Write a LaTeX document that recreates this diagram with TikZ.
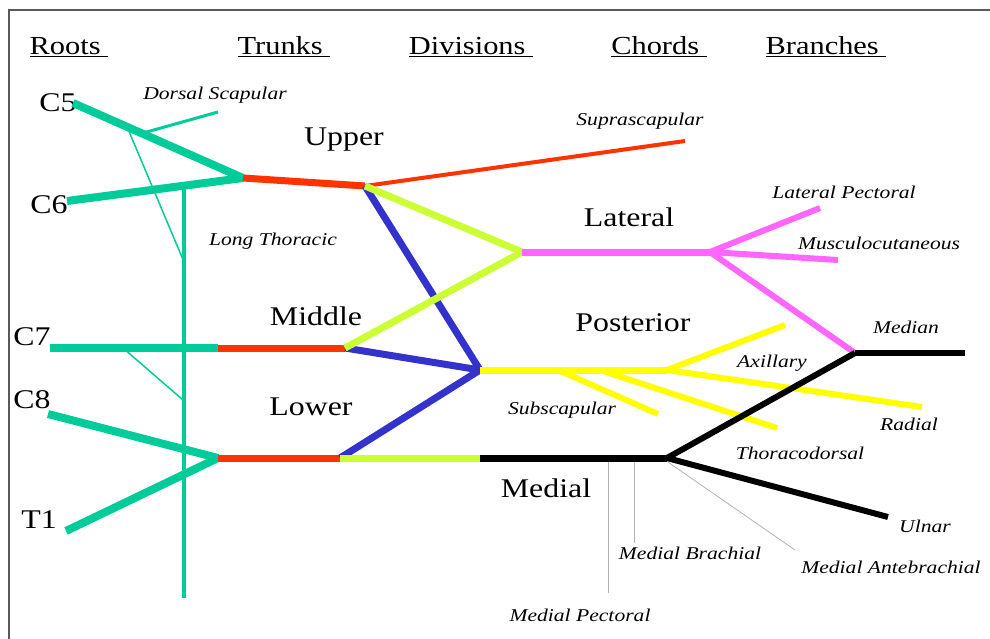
\documentclass[tikz,border=0pt]{standalone}
\usepackage{fontspec}
\setmainfont{Liberation Serif}
\definecolor{rootgreen}{HTML}{00CC99}
\definecolor{trunkred}{HTML}{FF3300}
\definecolor{antgreen}{HTML}{CCFF33}
\definecolor{postblue}{HTML}{3333CC}
\definecolor{latpink}{HTML}{FF66FF}
\definecolor{postyellow}{HTML}{FFFF00}
\def\Head#1{\underline{#1\ }}

\begin{document}
\begin{tikzpicture}[x=1pt,y=-1pt,
  head/.style={font=\fontsize{26}{28}\selectfont,xscale=1.17,inner sep=0pt,anchor=base},
  big/.style={font=\fontsize{27}{29}\selectfont,xscale=1.18,inner sep=0pt},
  small/.style={font=\fontsize{18}{20}\selectfont\itshape,xscale=1.2,inner sep=0pt},
  rootline/.style={line width=8pt,rootgreen},
  thinroot/.style={line width=1.5pt,rootgreen},
  trunk/.style={line width=7pt,trunkred},
  ant/.style={line width=7pt,antgreen},
  post/.style={line width=7pt,postblue},
  cord/.style={line width=7pt},
  branch/.style={line width=6pt},
  skin/.style={line width=0.8pt,gray!60}]
\clip (0,0) rectangle (990,639);
\useasboundingbox (0,0) rectangle (990,639);
\draw[line width=1.5pt,black!65] (9,10) rectangle (1010,660);

% headings
\node[head] (roots) at (69,55) {\Head{Roots}};
\node[head] (trunks) at (284,55) {\Head{Trunks}};
\node[head] (divs) at (471,55) {\Head{Divisions}};
\node[head] (chords) at (659,55) {\Head{Chords}};
\node[head] (branches) at (826,55) {\Head{Branches}};

% roots
\node[big] (C5) at (58,103) {C5};
\node[big] (C6) at (49,205) {C6};
\node[big] (C7) at (32,337) {C7};
\node[big] (C8) at (32,400) {C8};
\node[big] (T1) at (39,520) {T1};
\coordinate (c5) at (73,103);
\coordinate (c6) at (67,201);
\coordinate (c7) at (50,348);
\coordinate (c8) at (48,414);
\coordinate (t1) at (66,531);

% junctions
\coordinate (up) at (243,178);
\coordinate (mid) at (218,348);
\coordinate (low) at (218,458);
\coordinate (upd) at (365,186);
\coordinate (midd) at (345,348);
\coordinate (lowd) at (340,458);
\coordinate (lat) at (522,252);
\coordinate (post) at (480,370);
\coordinate (med) at (480,458);
\coordinate (latb) at (710,252);
\coordinate (postb) at (667,370);
\coordinate (medb) at (667,458);
\coordinate (mdn) at (855,353);

% long thoracic and dorsal scapular
\coordinate (lt1) at (184,186);
\coordinate (lt2) at (184,598);
\draw[line width=4pt,rootgreen] (lt1) -- (lt2);
\draw[thinroot] (128,129) -- (184,262);
\draw[thinroot] (123,348) -- (183,400);
\coordinate (dsa) at (143,133);
\coordinate (dsb) at (218,112);
\draw[line width=3pt,rootgreen] (dsa) -- (dsb);

\draw[rootline] (c5) -- (up);
\draw[rootline] (c6) -- (up);
\draw[rootline] (c7) -- (mid);
\draw[rootline] (c8) -- (low);
\draw[rootline] (t1) -- (low);

% trunks
\draw[trunk] (up) -- (upd);
\draw[trunk] (mid) -- (midd);
\draw[trunk] (low) -- (lowd);
\coordinate (ssc) at (685,141);
\draw[line width=4pt,trunkred] (upd) -- (ssc);

% divisions
\draw[post] (upd) -- (post);
\draw[post] (midd) -- (post);
\draw[post] (lowd) -- (post);
\draw[ant] (upd) -- (lat);
\draw[ant] (midd) -- (lat);
\draw[ant] (lowd) -- (med);

% lateral cord
\draw[cord,latpink] (lat) -- (latb);
\draw[branch,latpink] (latb) -- (820,208);
\draw[branch,latpink] (latb) -- (838,260);
\draw[branch,latpink] (latb) -- (mdn);

% posterior cord
\draw[cord,postyellow] (post) -- (postb);
\draw[branch,postyellow] (558,370) -- (658,414);
\draw[branch,postyellow] (603,371) -- (777,428);
\draw[branch,postyellow] (postb) -- (785,325);
\draw[branch,postyellow] (postb) -- (922,407);

% medial cord
\draw[skin] (608,458) -- (608,593);
\draw[skin] (634,458) -- (634,543);
\draw[skin] (665,460) -- (795,550);
\draw[cord,black] (med) -- (medb);
\draw[branch,black] (medb) -- (mdn);
\draw[branch,black] (mdn) -- (965,353);
\draw[branch,black] (medb) -- (888,517);

% labels
\node[small] (dsl) at (215,95) {Dorsal Scapular};
\node[small] (ltl) at (273,241) {Long Thoracic};
\node[big] (upl) at (344,140) {Upper};
\node[big] (midl) at (316,316) {Middle};
\node[big] (lowl) at (311,407) {Lower};
\node[small] (sscl) at (640,121) {Suprascapular};
\node[big] (latl) at (629,217) {Lateral};
\node[small] (lpl) at (844,192) {Lateral Pectoral};
\node[small] (mcl) at (879,243) {Musculocutaneous};
\node[big] (postl) at (633,323) {Posterior};
\node[small] (mdnl) at (906,327) {Median};
\node[small] (axl) at (772,363) {Axillary};
\node[small] (subl) at (562,410) {Subscapular};
\node[small] (radl) at (909,424) {Radial};
\node[small] (tdl) at (800,453) {Thoracodorsal};
\node[big] (medl) at (546,488) {Medial};
\node[small] (ulnl) at (925,526) {Ulnar};
\node[small] (mbl) at (690,553) {Medial Brachial};
\node[small] (mabl) at (891,567) {Medial Antebrachial};
\node[small] (mpl) at (580,615) {Medial Pectoral};
\end{tikzpicture}
\end{document}
